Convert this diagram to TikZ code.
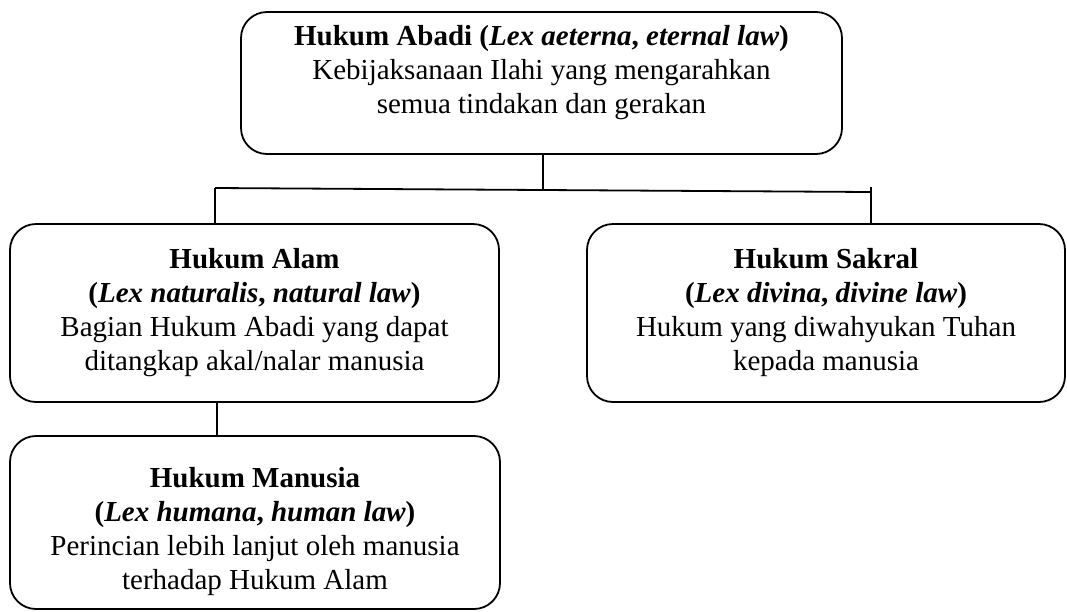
\documentclass[tikz,border=0pt]{standalone}
\usepackage{fontspec}
\setmainfont{Liberation Serif}
\begin{document}
\begin{tikzpicture}[x=1pt,y=-1pt, line width=1.8pt,
  box/.style={draw, rounded corners=26pt, align=center, inner sep=0pt,
    font=\fontsize{29}{34}\selectfont},
  txt/.style={align=center, inner sep=0pt, font=\fontsize{29}{34}\selectfont},
  conn/.style={draw, line width=1.8pt}]
\useasboundingbox (0,0) rectangle (1067,611);

% top box
\node[box, minimum width=601pt, minimum height=142pt] (abadi) at (541.5,83) {};
\node[txt] (abadit) at (541.5,73)
  {\textbf{Hukum Abadi (\textit{Lex aeterna}, \textit{eternal law})}\\
   Kebijaksanaan Ilahi yang mengarahkan\\
   semua tindakan dan gerakan};

% second row
\node[box, minimum width=489pt, minimum height=178pt] (alam) at (254.5,313)
  {\textbf{Hukum Alam}\\
   \textbf{(\textit{Lex naturalis}, \textit{natural law})}\\
   Bagian Hukum Abadi yang dapat\\
   ditangkap akal/nalar manusia};

\node[box, minimum width=478pt, minimum height=178pt] (sakral) at (826,313)
  {\textbf{Hukum Sakral}\\
   \textbf{(\textit{Lex divina}, \textit{divine law})}\\
   Hukum yang diwahyukan Tuhan\\
   kepada manusia};

% third row
\node[box, minimum width=490pt, minimum height=173pt] (manusia) at (255,522.5) {};
\node[txt] (manusiat) at (255,532)
  {\textbf{Hukum Manusia}\\
   \textbf{(\textit{Lex humana}, \textit{human law})}\\
   Perincian lebih lanjut oleh manusia\\
   terhadap Hukum Alam};

% connectors
\coordinate (hub) at (543,190);
\coordinate (lt) at (215,188);
\coordinate (rt) at (871,192);
\coordinate (rtop) at (871,187);
\coordinate (mx) at (217,0);

\draw[conn] (abadi.south -| hub) -- (hub);
\draw[conn] (lt) -- (rt);
\draw[conn] (lt) -- (lt |- alam.north);
\draw[conn] (rtop) -- (rtop |- sakral.north);
\draw[conn] (alam.south -| mx) -- (manusia.north -| mx);
\end{tikzpicture}
\end{document}
